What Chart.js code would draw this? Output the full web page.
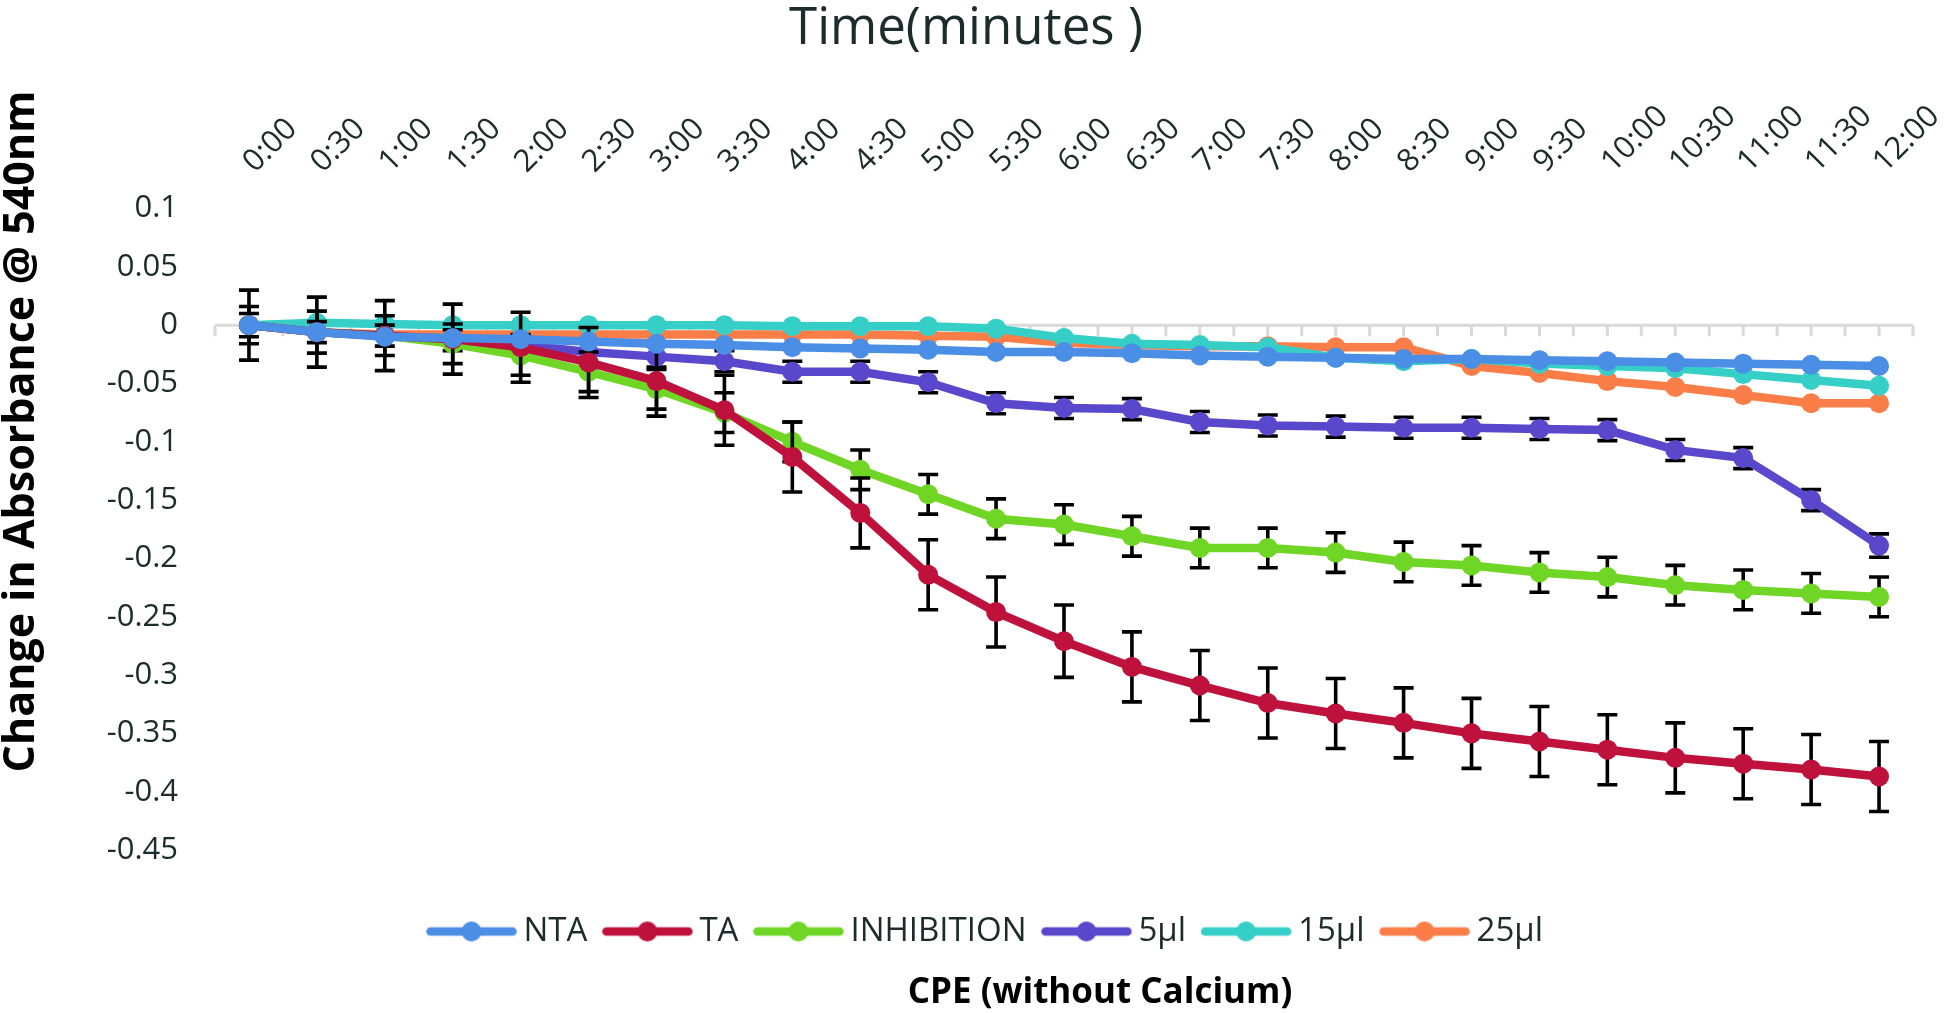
<!DOCTYPE html>
<html>
<head>
<meta charset="utf-8">
<script src="https://cdn.jsdelivr.net/npm/chart.js@4.4.1/dist/chart.umd.min.js"></script>
<style>
html,body{margin:0;padding:0;background:#ffffff;}
canvas{display:block;}
</style>
</head>
<body>
<canvas id="chart" width="1946" height="1013"></canvas>
<script>
// ---------- DATA ----------
const timeLabels = ['0:00','0:30','1:00','1:30','2:00','2:30','3:00','3:30','4:00','4:30','5:00','5:30','6:00',
                    '6:30','7:00','7:30','8:00','8:30','9:00','9:30','10:00','10:30','11:00','11:30','12:00'];

const ntaValues = [0, -0.006, -0.010, -0.011, -0.012, -0.014, -0.016, -0.017, -0.019, -0.020, -0.021, -0.023, -0.023,
                   -0.024, -0.026, -0.027, -0.028, -0.029, -0.029, -0.030, -0.031, -0.032, -0.033, -0.034, -0.035];
const taValues = [0, -0.006, -0.009, -0.012, -0.019, -0.032, -0.048, -0.073, -0.113, -0.161, -0.214, -0.246, -0.271,
                  -0.293, -0.309, -0.324, -0.333, -0.341, -0.350, -0.357, -0.364, -0.371, -0.376, -0.381, -0.387];
const inhibitionValues = [0, -0.006, -0.009, -0.016, -0.026, -0.040, -0.055, -0.075, -0.100, -0.124, -0.145, -0.166, -0.171,
                          -0.181, -0.191, -0.191, -0.195, -0.203, -0.206, -0.212, -0.216, -0.223, -0.227, -0.230, -0.233];
const ul5Values = [0, -0.006, -0.009, -0.013, -0.017, -0.023, -0.027, -0.031, -0.040, -0.040, -0.049, -0.067, -0.071,
                   -0.072, -0.083, -0.086, -0.087, -0.088, -0.088, -0.089, -0.090, -0.107, -0.114, -0.150, -0.189];
const ul15Values = [0, 0.002, 0.001, 0, 0, 0, 0, 0, -0.001, -0.001, -0.001, -0.003, -0.011,
                    -0.016, -0.017, -0.019, -0.028, -0.031, -0.029, -0.033, -0.035, -0.037, -0.042, -0.047, -0.052];
const ul25Values = [0, -0.006, -0.008, -0.008, -0.008, -0.008, -0.008, -0.008, -0.008, -0.008, -0.009, -0.010, -0.015,
                    -0.017, -0.018, -0.018, -0.019, -0.019, -0.035, -0.041, -0.048, -0.053, -0.060, -0.067, -0.067];

// error bar half-widths (absorbance units)
const taErrors = [0.030, 0.030, 0.030, 0.030, 0.030, 0.030, 0.030, 0.030, 0.030, 0.030, 0.030, 0.030, 0.031,
                  0.030, 0.030, 0.030, 0.030, 0.030, 0.030, 0.030, 0.030, 0.030, 0.030, 0.030, 0.030];
const inhibitionErrors = [0.016, 0.018, 0.017, 0.017, 0.017, 0.017, 0.017, 0.017, 0.017, 0.017, 0.017, 0.017, 0.017,
                          0.017, 0.017, 0.017, 0.017, 0.017, 0.017, 0.017, 0.017, 0.017, 0.017, 0.017, 0.017];
const ul5Errors = [0.010, 0.009, 0.009, 0.009, 0.009, 0.009, 0.009, 0.009, 0.009, 0.009, 0.009, 0.009, 0.009,
                   0.009, 0.009, 0.009, 0.009, 0.009, 0.009, 0.009, 0.009, 0.009, 0.009, 0.009, 0.010];

const seriesNames = ['NTA', 'TA', 'INHIBITION', '5µl', '15µl', '25µl'];
const seriesValues = [ntaValues, taValues, inhibitionValues, ul5Values, ul15Values, ul25Values];
const seriesErrors = [null, taErrors, inhibitionErrors, ul5Errors, null, null];

const xAxisTitle = 'Time(minutes )';
const yAxisTitle = 'Change in Absorbance @ 540nm';
const bottomTitle = 'CPE (without Calcium)';

// ---------- STYLE ----------
const seriesColors = ['#4A8EE6', '#BE123C', '#70D626', '#5A48CC', '#36CFC7', '#FB7D47'];
const textColor = '#1c2b2b';

Chart.defaults.font.family = "'Open Sans', 'Noto Sans', sans-serif";
Chart.defaults.color = textColor;

function legendSymbol(color) {
  const c = document.createElement('canvas');
  c.width = 92; c.height = 22;
  const g = c.getContext('2d');
  g.strokeStyle = color; g.lineWidth = 8.5; g.lineCap = 'round';
  g.beginPath(); g.moveTo(5, 11); g.lineTo(87, 11); g.stroke();
  g.fillStyle = color;
  g.beginPath(); g.arc(46, 11, 10, 0, Math.PI * 2); g.fill();
  return c;
}
const legendSymbols = seriesColors.map(legendSymbol);

// zero line with tick marks (category axis crossing at 0)
const zeroAxisPlugin = {
  id: 'zeroAxis',
  beforeDatasetsDraw(chart) {
    const xs = chart.scales.x, ys = chart.scales.y, ctx = chart.ctx;
    const y0 = ys.getPixelForValue(0);
    const step = xs.getPixelForValue(1) - xs.getPixelForValue(0);
    const left = xs.getPixelForValue(0) - step / 2;
    const right = xs.getPixelForValue(timeLabels.length - 1) + step / 2;
    ctx.save();
    ctx.strokeStyle = '#d9d9d9';
    ctx.lineWidth = 3;
    ctx.beginPath();
    ctx.moveTo(left, y0); ctx.lineTo(right, y0);
    for (let k = 0; k <= timeLabels.length * 2; k++) {
      const xx = left + k * step / 2;
      ctx.moveTo(xx, y0); ctx.lineTo(xx, y0 + 11);
    }
    ctx.stroke();
    ctx.restore();
  }
};

// error bars drawn just beneath each series
const errorBarPlugin = {
  id: 'errorBars',
  beforeDatasetDraw(chart, args) {
    const errs = seriesErrors[args.index];
    if (!errs) return;
    const vals = chart.data.datasets[args.index].data;
    const ys = chart.scales.y, ctx = chart.ctx;
    ctx.save();
    ctx.strokeStyle = '#000000';
    ctx.lineWidth = 3.6;
    args.meta.data.forEach((pt, i) => {
      const yt = ys.getPixelForValue(vals[i] + errs[i]);
      const yb = ys.getPixelForValue(vals[i] - errs[i]);
      ctx.beginPath();
      ctx.moveTo(pt.x, yt); ctx.lineTo(pt.x, yb);
      ctx.moveTo(pt.x - 10, yt); ctx.lineTo(pt.x + 10, yt);
      ctx.moveTo(pt.x - 10, yb); ctx.lineTo(pt.x + 10, yb);
      ctx.stroke();
    });
    ctx.restore();
  }
};

// nudge title / legend boxes to where the original places them
const layoutShiftPlugin = {
  id: 'layoutShift',
  afterLayout(chart) {
    const t = chart.titleBlock;
    if (t) { t.top -= 75; t.bottom -= 75; }
    const xs = chart.scales.x;
    xs.left -= 196;   // only moves the axis title centre; data pixels are already configured
    const lg = chart.legend;
    if (lg) { lg.left += 33; lg.right += 33; }
    const sub = chart.boxes.find(b => b !== chart.titleBlock && b.options && b.options.text === bottomTitle);
    if (sub) { sub.left += 143.5; sub.right += 143.5; }
  }
};

const datasets = seriesNames.map((name, i) => ({
  label: name,
  data: seriesValues[i],
  borderColor: seriesColors[i],
  backgroundColor: seriesColors[i],
  pointBackgroundColor: seriesColors[i],
  pointBorderColor: seriesColors[i],
  pointBorderWidth: 0,
  pointRadius: 10,
  pointHoverRadius: 10,
  borderWidth: 8.5,
  tension: 0,
  fill: false,
  clip: false
}));

new Chart(document.getElementById('chart'), {
  type: 'line',
  data: { labels: timeLabels, datasets },
  plugins: [zeroAxisPlugin, errorBarPlugin, layoutShiftPlugin],
  options: {
    responsive: false,
    animation: false,
    devicePixelRatio: 1,
    layout: { padding: { left: 0, right: 33, top: 0, bottom: 0 } },
    plugins: {
      tooltip: { enabled: false },
      title: {
        display: true, text: yAxisTitle, position: 'left', color: '#000000',
        font: { size: 43, weight: 'bold', lineHeight: 1 },
        padding: { top: 0, bottom: 0 }
      },
      subtitle: {
        display: true, text: bottomTitle, position: 'bottom', color: '#000000',
        font: { size: 35, weight: 'bold', lineHeight: 1 },
        padding: { top: 17.5, bottom: 2.5 }
      },
      legend: {
        position: 'bottom',
        title: { display: true, text: '', font: { size: 40.5, lineHeight: 1 }, padding: 0 },
        labels: {
          usePointStyle: true,
          pointStyleWidth: 71,
          padding: 24.5,
          color: textColor,
          font: { size: 33 },
          generateLabels(chart) {
            const items = Chart.defaults.plugins.legend.labels.generateLabels(chart);
            items.forEach((it, i) => { it.pointStyle = legendSymbols[i]; });
            return items;
          }
        }
      }
    },
    scales: {
      x: {
        type: 'category',
        position: 'top',
        offset: true,
        grid: { display: false, drawTicks: false },
        border: { display: false },
        ticks: {
          autoSkip: false, minRotation: 45, maxRotation: 45,
          padding: 28, labelOffset: 26,
          color: textColor, font: { size: 31 }
        },
        title: {
          display: true, text: xAxisTitle, color: textColor,
          font: { size: 51, lineHeight: 1 }, padding: { top: 3.5, bottom: 0 }
        },
        afterFit(s) { s.height = 208.5; s.paddingLeft = 0; s.paddingRight = 0; }
      },
      y: {
        min: -0.45, max: 0.1,
        grid: { display: false, drawTicks: false },
        border: { display: false },
        ticks: {
          stepSize: 0.05, padding: 37, color: textColor, font: { size: 31 },
          callback: (v) => String(Math.round(v * 100) / 100)
        },
        afterFit(s) { s.width = 172; s.paddingTop = 0; s.paddingBottom = 0; }
      }
    }
  }
});
</script>
</body>
</html>
